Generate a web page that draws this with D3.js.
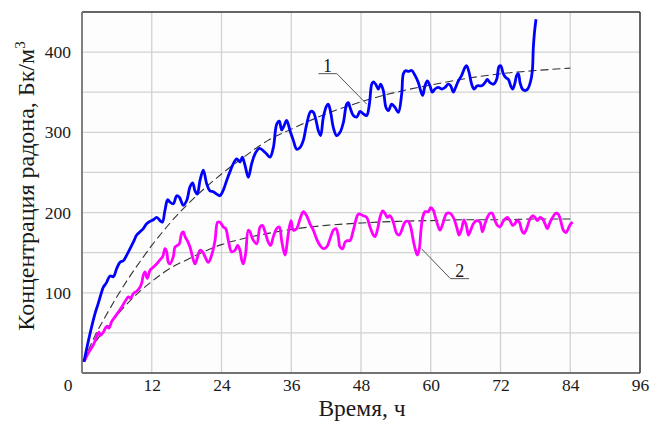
<!DOCTYPE html>
<html><head><meta charset="utf-8">
<script src="https://cdn.jsdelivr.net/npm/d3@7"></script>
<style>
html,body{margin:0;padding:0;background:#fff;}
svg{display:block;}
text{font-family:"Liberation Serif","Times New Roman",serif;fill:#1a1a1a;}
</style></head>
<body>
<svg id="chart" width="653" height="423"></svg>
<script>
// ---- data ----
const xTicks = [12, 24, 36, 48, 60, 72, 84, 96];
const yTicks = [100, 200, 300, 400];
const xTitle = "Время, ч";
const yTitle = "Концентрация радона, Бк/м";

// series 1 (blue)
const hours1 = [0.34,1.38,2.24,2.81,3.38,3.67,4.24,4.82,5.39,5.96,6.54,7.11,7.69,8.26,8.83,9.41,9.98,10.55,11.13,11.70,12.27,12.85,13.42,13.82,14.28,14.74,15.14,15.71,16.29,16.75,17.43,18.01,18.58,19.04,19.44,19.84,20.30,20.87,21.45,22.02,22.59,23.17,23.74,24.31,24.89,25.46,26.04,26.61,27.19,27.58,28.04,28.62,29.19,29.76,30.51,31.20,31.77,32.34,32.92,33.49,33.95,34.35,34.75,35.21,35.79,36.36,36.93,37.51,38.08,38.65,39.34,39.80,40.26,40.66,41.06,41.52,42.09,42.38,42.78,43.24,43.81,44.39,44.96,45.53,45.82,46.11,46.68,47.26,47.83,48.40,48.98,49.44,49.84,50.12,50.52,50.98,51.38,51.84,52.30,52.71,53.28,53.85,54.43,55.00,55.29,55.69,56.14,56.72,57.29,57.86,58.26,58.61,59.01,59.41,59.87,60.27,60.73,61.30,61.88,62.45,63.02,63.43,63.89,64.17,64.75,65.32,65.89,66.18,66.58,67.04,67.44,68.01,68.76,69.33,69.73,70.19,70.77,71.34,71.74,72.03,72.49,72.95,73.35,73.75,74.10,74.50,74.78,75.07,75.36,75.76,76.22,76.68,77.19,77.48,77.65,77.85,78.11];
const radon1 = [14,49,74,87,101,107,113,121,120,130,138,140,147,155,163,172,176,180,186,189,191,194,190,188,203,216,213,211,221,219,209,215,232,237,227,223,240,253,236,227,226,223,221,228,240,251,261,267,263,269,259,244,261,273,280,277,273,269,281,310,314,303,308,315,302,290,279,281,290,310,326,325,315,302,296,319,333,335,325,306,296,300,312,335,337,331,321,319,326,323,321,335,360,363,360,354,360,352,331,327,335,331,325,348,373,377,376,377,371,362,352,346,358,364,358,350,354,356,354,356,360,358,350,354,364,371,381,383,375,360,354,358,358,362,366,362,360,366,382,383,373,368,366,358,354,362,371,373,362,354,352,354,364,377,406,425,441];

// series 2 (magenta)
const hours2 = [0.34,1.09,1.95,2.52,2.93,3.21,3.67,4.24,4.64,5.10,5.68,6.25,6.82,7.40,7.97,8.37,8.83,9.41,9.98,10.27,10.55,10.84,11.24,11.70,12.27,12.85,13.42,13.88,14.28,14.57,14.85,15.14,15.71,16.00,16.40,16.75,17.14,17.43,17.72,18.12,18.58,19.15,19.44,19.73,20.30,20.76,21.16,21.73,22.31,22.88,23.34,23.74,24.31,24.72,25.18,25.75,26.32,26.78,27.18,27.47,27.75,28.15,28.61,28.90,29.36,30.05,30.63,31.03,31.49,32.06,32.46,32.92,33.49,33.95,34.35,34.92,35.50,35.96,36.36,36.93,37.51,38.08,38.65,39.22,39.80,40.37,40.94,41.52,42.09,42.66,43.24,43.70,44.10,44.39,44.85,45.25,45.65,46.11,46.68,47.26,47.54,47.83,48.40,48.98,49.55,50.12,50.41,50.81,51.27,51.73,52.13,52.53,52.99,53.56,54.14,54.60,55.00,55.57,56.14,56.55,57.00,57.46,57.70,58.03,58.32,58.61,59.01,59.58,59.99,60.44,60.73,61.13,61.59,62.16,62.74,63.31,63.88,64.46,64.86,65.32,65.72,66.18,66.47,66.87,67.33,67.90,68.48,68.88,69.33,69.74,70.19,70.59,71.05,71.46,71.91,72.37,72.77,73.17,73.63,74.09,74.49,74.78,75.24,75.64,76.04,76.50,77.07,77.53,77.93,78.33,78.80,79.25,79.66,80.06,80.52,80.98,81.49,81.95,82.35,82.81,83.27,83.67,84.07,84.42];
const radon2 = [14,25,35,45,51,47,51,58,56,64,70,76,82,89,95,93,99,102,107,112,122,126,118,128,132,136,141,145,155,151,138,136,145,157,159,161,174,176,170,165,157,141,136,141,153,151,145,138,147,165,188,188,182,180,165,151,153,159,153,141,136,149,178,176,167,161,182,184,176,163,159,170,180,182,165,147,174,190,178,180,192,201,196,186,178,167,159,155,157,167,178,180,170,157,155,163,165,165,178,194,198,198,196,194,182,172,170,178,194,202,199,194,196,188,174,172,178,188,189,182,165,151,147,155,178,194,201,201,206,203,196,186,178,188,199,199,194,182,172,180,191,182,172,178,186,190,188,176,186,194,199,199,190,184,182,188,192,194,190,184,186,190,188,178,174,180,192,196,194,190,194,192,186,180,188,194,199,198,190,178,175,180,186,188];

// fitted (dashed) curves
const fitHours = [0.3,2,4,6,8,10,12,14,16,18,20,24,28,32,36,42,48,54,60,66,72,78,84];
const fit1 = [14,43,70,95,118,139,159,177,194,209,223,248,270,290,304,323,338,350,359,367,373,377,380];
const fit2 = [14,35,55,72,88,102,114,125,134,141,148,160,168,174,179,184,187,189,190,191,191,192,192];

// callouts: [label, hours, value at leader end]
const callouts = [["1", 49.0, 335], ["2", 58.4, 155]];

// ---- layout ----
const W = 653, H = 423;
const M = {left: 82, top: 12, right: 13, bottom: 50};
const iw = W - M.left - M.right, ih = H - M.top - M.bottom;

const svg = d3.select("#chart");
const x = d3.scaleLinear().domain([0, 96]).range([M.left, M.left + iw]);
const y = d3.scaleLinear().domain([0, 450]).range([M.top + ih, M.top]);

svg.append("rect").attr("x", M.left).attr("y", M.top).attr("width", iw).attr("height", ih).attr("fill", "#fdfdfd");

// grid
const grid = svg.append("g").attr("stroke", "#d2d2d2").attr("stroke-width", 1.3);
grid.selectAll("line.v").data(d3.range(12, 96, 12)).join("line")
  .attr("x1", d => x(d)).attr("x2", d => x(d)).attr("y1", M.top).attr("y2", M.top + ih);
grid.selectAll("line.h").data(d3.range(50, 450, 50)).join("line")
  .attr("x1", M.left).attr("x2", M.left + iw).attr("y1", d => y(d)).attr("y2", d => y(d));

// axes
const fontSize = 17.5;
const gx = svg.append("g").attr("transform", `translate(0,${M.top + ih})`)
  .call(d3.axisBottom(x).tickValues(xTicks).tickSize(0).tickPadding(6).tickFormat(d3.format("d")));
const gy = svg.append("g").attr("transform", `translate(${M.left},0)`)
  .call(d3.axisLeft(y).tickValues(yTicks).tickSize(0).tickPadding(11).tickFormat(d3.format("d")));
[gx, gy].forEach(g => {
  g.attr("font-family", null).attr("font-size", null);
  g.select(".domain").remove();
  g.selectAll("text").style("font-family", '"Liberation Serif",serif').style("font-size", fontSize + "px").attr("fill", "#1a1a1a");
});
svg.append("text").attr("x", x(0) - 9.5).attr("y", M.top + ih + 6).attr("dy", "0.71em")
  .attr("text-anchor", "end").style("font-size", fontSize + "px").text("0");

// frame
svg.append("line").attr("x1", M.left).attr("x2", M.left + iw).attr("y1", M.top).attr("y2", M.top).attr("stroke", "#333").attr("stroke-width", 1.5);
svg.append("line").attr("x1", M.left + iw).attr("x2", M.left + iw).attr("y1", M.top).attr("y2", M.top + ih).attr("stroke", "#333").attr("stroke-width", 1.5);
svg.append("line").attr("x1", M.left).attr("x2", M.left + iw).attr("y1", M.top + ih).attr("y2", M.top + ih).attr("stroke", "#444").attr("stroke-width", 1.6);
svg.append("line").attr("x1", M.left).attr("x2", M.left).attr("y1", M.top).attr("y2", M.top + ih).attr("stroke", "#808080").attr("stroke-width", 2);

// lines
const line = d3.line().x(d => x(d[0])).y(d => y(d[1])).curve(d3.curveCatmullRom.alpha(0.5));
const fitLine = d3.line().x(d => x(d[0])).y(d => y(d[1])).curve(d3.curveMonotoneX);

svg.append("path").datum(d3.zip(fitHours, fit1)).attr("d", fitLine)
  .attr("fill", "none").attr("stroke", "#333").attr("stroke-width", 1.1).attr("stroke-dasharray", "8,4");
svg.append("path").datum(d3.zip(fitHours, fit2)).attr("d", fitLine)
  .attr("fill", "none").attr("stroke", "#333").attr("stroke-width", 1.1).attr("stroke-dasharray", "8,4");

svg.append("path").datum(d3.zip(hours2, radon2)).attr("d", line)
  .attr("fill", "none").attr("stroke", "#ff00ff").attr("stroke-width", 2.8).attr("stroke-linejoin", "round");
svg.append("path").datum(d3.zip(hours1, radon1)).attr("d", line)
  .attr("fill", "none").attr("stroke", "#0000ff").attr("stroke-width", 2.8).attr("stroke-linejoin", "round");

// callouts
const offs = {"1": {dx: -30, dy: -30.6, ux: -18.4}, "2": {dx: 29, dy: 30, ux: 18.6}};
callouts.forEach(([lab, t, v]) => {
  const o = offs[lab];
  const px = x(t), py = y(v);
  const ax = px + o.dx, ay = py + o.dy;
  svg.append("polyline").attr("points", `${px},${py} ${ax},${ay} ${ax + o.ux},${ay}`)
    .attr("fill", "none").attr("stroke", "#555").attr("stroke-width", 1);
  svg.append("text").attr("x", ax + o.ux / 2).attr("y", ay - 2).attr("text-anchor", "middle")
    .style("font-size", "18px").text(lab);
});

// titles
svg.append("text").attr("x", 362).attr("y", 415.5).attr("text-anchor", "middle")
  .style("font-size", "23.5px").text(xTitle);
const yt = svg.append("text").attr("transform", "translate(33.5,186) rotate(-90)").attr("text-anchor", "middle")
  .style("font-size", "24px");
yt.append("tspan").text(yTitle);
yt.append("tspan").attr("dy", -9).style("font-size", "15px").text("3");
</script>
</body></html>
